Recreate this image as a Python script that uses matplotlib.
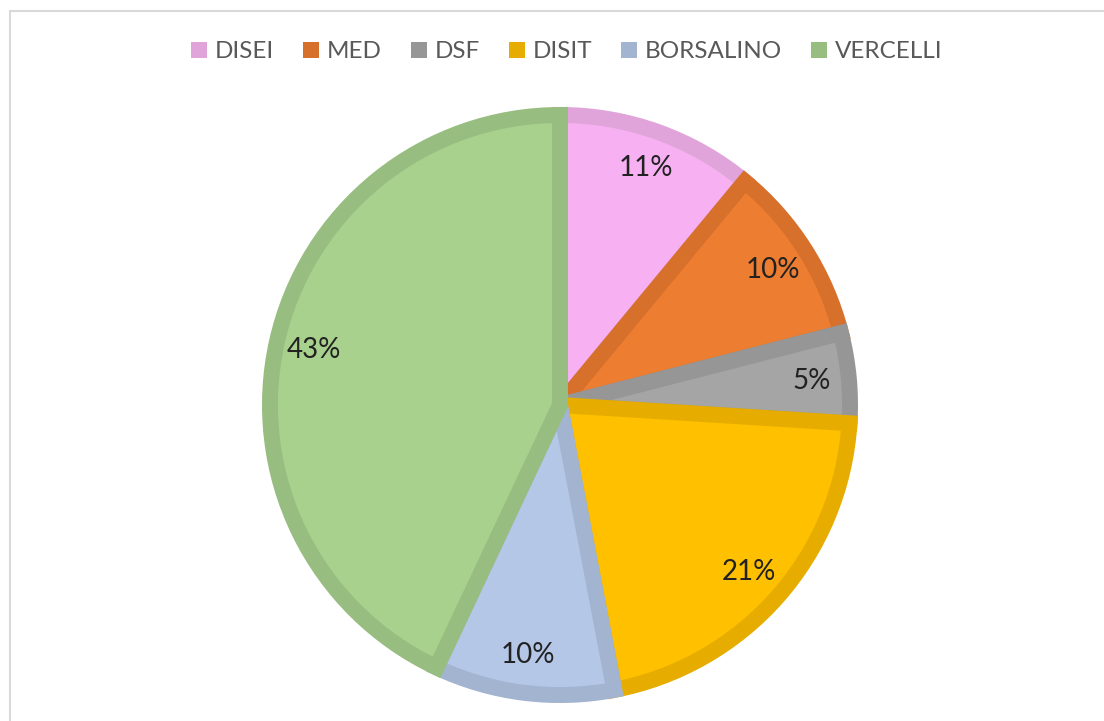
import matplotlib
matplotlib.use("Agg")
import matplotlib.pyplot as plt
from matplotlib.patches import Patch, Rectangle

# Data
labels = ['DISEI', 'MED', 'DSF', 'DISIT', 'BORSALINO', 'VERCELLI']
values = [11, 10, 5, 21, 10, 43]
fill_colors = ['#F7B1F2', '#ED7D31', '#A5A5A5', '#FFC000', '#B4C7E7', '#A9D18E']
edge_colors = ['#E0A4DB', '#D7702B', '#969696', '#E6AD00', '#A2B4D0', '#98BD80']

plt.rcParams['font.family'] = ['Lato', 'DejaVu Sans']

W, H = 1104, 721
fig = plt.figure(figsize=(W / 100, H / 100), dpi=100)
ax = fig.add_axes([0, 0, 1, 1])

# chart frame (cut at right and bottom like the screenshot)
ax.add_patch(Rectangle((10, -10), W + 20, H - 11 + 10, fill=False,
                       edgecolor='#D9D9D9', linewidth=1.5))

wedges, texts, autotexts = ax.pie(
    values, colors=fill_colors, startangle=90, counterclock=False,
    center=(560, H - 405), radius=290, explode=[0.025] * len(values),
    autopct=lambda p: f'{p:.0f}%', pctdistance=0.87,
    textprops={'fontsize': 20, 'color': '#222222'}, frame=True)
ax.set_xlim(0, W)
ax.set_ylim(0, H)
ax.axis('off')

# border drawn on the inside of each slice
for w, ec in zip(wedges, edge_colors):
    w.set_edgecolor(ec)
    w.set_linewidth(11.5)
    w.set_joinstyle('miter')
    w.set_clip_path(w)

handles = [Patch(facecolor=c, edgecolor='none') for c in edge_colors]
leg = ax.legend(handles, labels, loc='center', bbox_to_anchor=(567 / W, 1 - 52 / H),
                ncol=6, frameon=False, prop={'size': 17.5},
                handlelength=0.65, handleheight=0.65, handletextpad=0.32,
                columnspacing=1.2, borderaxespad=0)
for t in leg.get_texts():
    t.set_color('#595959')

fig.savefig('out.png', dpi=100)
